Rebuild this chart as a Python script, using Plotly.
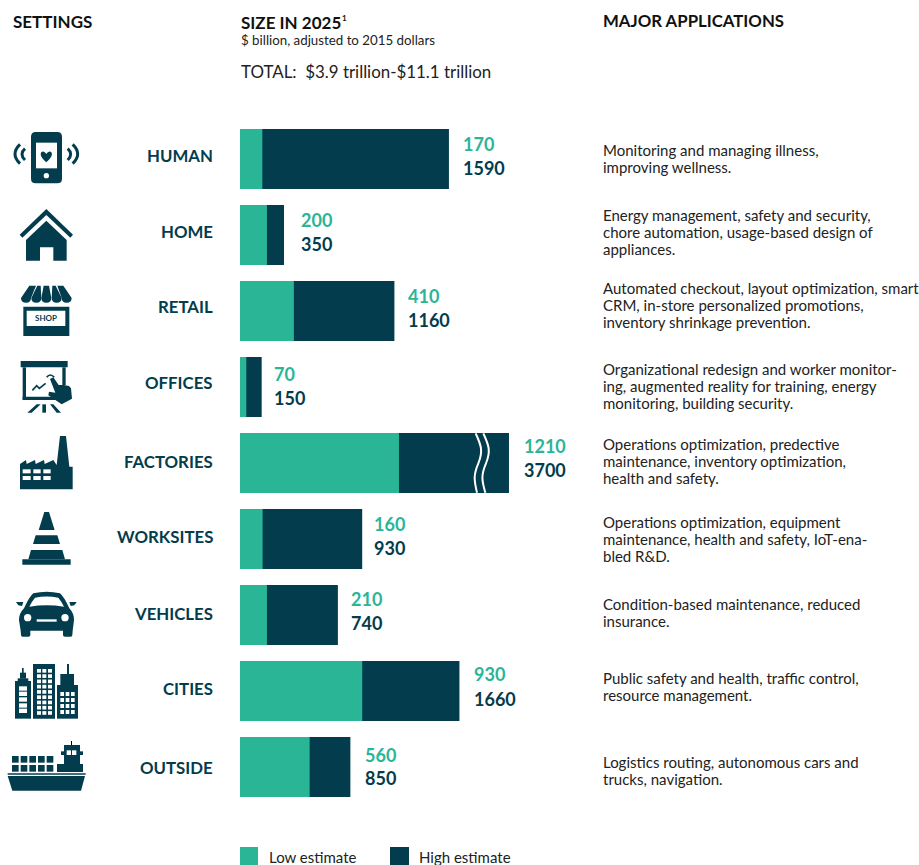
import plotly.graph_objects as go

# ---------- data ----------
categories = ["HUMAN", "HOME", "RETAIL", "OFFICES", "FACTORIES", "WORKSITES", "VEHICLES", "CITIES", "OUTSIDE"]
low_estimate = [170, 200, 410, 70, 1210, 160, 210, 930, 560]
high_estimate = [1590, 350, 1160, 150, 3700, 930, 740, 1660, 850]
# Bar lengths (the factories bar is on a broken axis in the original)
high_drawn = [1590, 335, 1175, 165, 2047, 930, 745, 1670, 840]
low_drawn = [170, 205, 410, 48, 1210, 172, 205, 930, 530]
applications = [
    ["Monitoring and managing illness,", "improving wellness."],
    ["Energy management, safety and security,", "chore automation, usage-based design of", "appliances."],
    ["Automated checkout, layout optimization, smart", "CRM, in-store personalized promotions,", "inventory shrinkage prevention."],
    ["Organizational redesign and worker monitor-", "ing, augmented reality for training, energy", "monitoring, building security."],
    ["Operations optimization, predective", "maintenance, inventory optimization,", "health and safety."],
    ["Operations optimization, equipment", "maintenance, health and safety, IoT-ena-", "bled R&D."],
    ["Condition-based maintenance, reduced", "insurance."],
    ["Public safety and health, traffic control,", "resource management."],
    ["Logistics routing, autonomous cars and", "trucks, navigation."],
]

# ---------- layout constants ----------
W, H = 919, 865
GREEN, DARK = "#2BB597", "#033C4D"
FONT = "Lato"
K = 0.1314
X0 = 240
Y_FIRST, PITCH = 159, 76
label_y = [155.5, 231.5, 306.5, 382.5, 461.5, 536.5, 613.5, 688.5, 767.5]
low_val_y = [144, 220, 296, 374, 446, 524, 599, 674, 755]
high_val_y = [168, 244, 320, 398, 470, 548, 623, 699, 778]
val_shift = [13.5, 15.5, 12.5, 11.5, 14.5, 10.5, 12.5, 13.5, 13.5]
desc_first_y = [149.5, 214.5, 287.5, 368.5, 443.5, 521.5, 603.5, 677.5, 761.5]

fig = go.Figure()
fig.add_bar(y=categories, x=high_drawn, orientation="h", marker=dict(color=DARK, line_width=0),
            name="High estimate", hoverinfo="skip")
fig.add_bar(y=categories, x=low_drawn, orientation="h", marker=dict(color=GREEN, line_width=0),
            name="Low estimate", hoverinfo="skip")
fig.add_scatter(x=[0], y=[0], xaxis="x2", yaxis="y2", mode="markers", marker=dict(opacity=0, size=1),
                hoverinfo="skip", showlegend=False)

ann, shapes = [], []


def text(x, y, s, size, color, bold=False, anchor="left", xref="x2", xshift=0):
    t = f"<b>{s}</b>" if bold else s
    ann.append(dict(x=x, y=y, xref=xref, yref="y2", text=t, showarrow=False, xanchor=anchor, yanchor="middle",
                    xshift=xshift, align=anchor, borderpad=0,
                    font=dict(family=FONT, size=size, color=color)))


def P(pts, oy=0, color=DARK):
    d = "M " + " L ".join(f"{x/3:.2f},{y/3+oy:.2f}" for x, y in pts) + " Z"
    shapes.append(dict(type="path", path=d, xref="x2", yref="y2", fillcolor=color, line_width=0))


def R(x0, y0, x1, y1, oy=0, color=DARK):
    shapes.append(dict(type="rect", x0=x0/3, x1=x1/3, y0=y0/3+oy, y1=y1/3+oy, xref="x2", yref="y2",
                       fillcolor=color, line_width=0))


def C(cx, cy, r, oy=0, color=DARK):
    shapes.append(dict(type="circle", x0=(cx-r)/3, x1=(cx+r)/3, y0=(cy-r)/3+oy, y1=(cy+r)/3+oy, xref="x2", yref="y2",
                       fillcolor=color, line_width=0))


def raw(d, ox=0, oy=0, fill=DARK, stroke=None, w=0):
    # d is a list of tokens: commands and (x, y) pairs in zoom coordinates
    out = []
    for tok in d:
        out.append(tok if isinstance(tok, str) else f"{tok[0]/3+ox:.2f},{tok[1]/3+oy:.2f}")
    s = dict(type="path", path=" ".join(out), xref="x2", yref="y2", line=dict(width=w, color=stroke or "rgba(0,0,0,0)"))
    s["fillcolor"] = fill if fill else "rgba(0,0,0,0)"
    shapes.append(s)


# ---------- headers ----------
text(11.5, 21, "SETTINGS", 17, "#111111", True)
text(239.5, 22, "SIZE IN 2025", 17, "#111111", True)
text(340.5, 18, "1", 8, "#111111", True)
text(239.5, 39.5, "$ billion, adjusted to 2015 dollars", 13.3, "#222222")
text(239.5, 71.5, "TOTAL:  $3.9 trillion-$11.1 trillion", 16.9, "#222222")
text(601.5, 20.5, "MAJOR APPLICATIONS", 16.8, "#111111", True)

# ---------- rows ----------
for i, c in enumerate(categories):
    text(214, label_y[i], c, 16.8, DARK, True, anchor="right")
    text(high_drawn[i], low_val_y[i], str(low_estimate[i]), 18, GREEN, True, xref="x", xshift=val_shift[i])
    text(high_drawn[i], high_val_y[i], str(high_estimate[i]), 18, DARK, True, xref="x", xshift=val_shift[i])
    for j, line in enumerate(applications[i]):
        text(601.5, desc_first_y[i] + 17 * j, line, 15, "#222222")

# ---------- axis break on the factories bar ----------
raw(["M", (287, 40), "C", (300, 70), (312, 90), (295, 130), "C", (280, 165), (282, 180), (291, 218)],
    ox=380, oy=420, fill=None, stroke="white", w=2)
raw(["M", (310, 40), "C", (323, 70), (335, 90), (318, 130), "C", (303, 165), (305, 180), (316, 218)],
    ox=380, oy=420, fill=None, stroke="white", w=2)

# ---------- legend ----------
shapes.append(dict(type="rect", xref="x2", yref="y2", x0=240, x1=258, y0=847, y1=865, fillcolor=GREEN, line_width=0))
shapes.append(dict(type="rect", xref="x2", yref="y2", x0=390, x1=409, y0=847, y1=865, fillcolor=DARK, line_width=0))
text(267.5, 857, "Low estimate", 15, "#222222")
text(418, 857, "High estimate", 15, "#222222")

# ---------- icons ----------
# human (phone with heart and signal arcs)
raw(["M", (107, 396), "L", (172, 396), "Q", (186, 396), (186, 410), "L", (186, 536), "Q", (186, 550), (172, 550),
     "L", (107, 550), "Q", (93, 550), (93, 536), "L", (93, 410), "Q", (93, 396), (107, 396), "Z"])
R(108, 428, 171, 505, color="white")
C(139, 527, 8, color="white")
raw(["M", (139, 487), "C", (115, 468), (121, 453), (131, 455), "Q", (136, 456), (139, 462), "Q", (142, 456), (147, 455),
     "C", (157, 453), (163, 468), (139, 487), "Z"])
for d in [[(60, 433), (30, 462), (60, 491)], [(75, 446), (57, 462), (75, 480)],
          [(218, 433), (248, 462), (218, 491)], [(203, 446), (221, 462), (203, 480)]]:
    raw(["M", d[0], "Q", d[1], d[2]], fill=None, stroke=DARK, w=3)

# home
P([(139, 627), (219, 704), (211, 713), (139, 645), (67, 713), (59, 704)])
P([(139, 662), (200, 720), (200, 782), (160, 782), (160, 742), (120, 742), (120, 782), (78, 782), (78, 720)])

# retail
tops = [(88, 108), (112, 122), (131, 147), (157, 167), (172, 190)]
bots = [(63, 93), (94, 124), (124, 154), (155, 185), (185, 215)]
for (t0, t1), (b0, b1) in zip(tops, bots):
    m = (b0 + b1) / 2
    raw(["M", (t0, 47), "L", (t1, 47), "L", (b1, 84), "Q", (b1, 98), (m, 98), "Q", (b0, 98), (b0, 84), "Z"], oy=270)
R(70, 110, 208, 198, 270)
R(80, 122, 196, 168, 270, color="white")
text(46.4, 318.2, "SHOP", 8, DARK, True, anchor="center")

# offices
R(62, 273, 203, 292, 270)
R(68, 292, 78, 390, 270)
R(187, 292, 197, 345, 270)
R(68, 380, 172, 390, 270)
P([(110, 403), (122, 403), (95, 428), (82, 428)], 270)
R(127, 403, 138, 428, 270)
P([(150, 403), (160, 403), (183, 428), (170, 428)], 270)
raw(["M", (97, 361), "L", (110, 347), "L", (118, 355), "L", (137, 340)], oy=270, fill=None, stroke=DARK, w=1.6)
raw(["M", (140, 322), "Q", (150, 308), (163, 322)], oy=270, fill=None, stroke=DARK, w=1.6)
P([(150, 327), (160, 322), (176, 345), (192, 345), (207, 348), (213, 355), (216, 386), (185, 403), (145, 376), (147, 365),
   (166, 368)], 270)

# factories
P([(60, 590), (60, 582), (78, 570), (80, 582), (105, 570), (107, 582), (132, 570), (134, 582), (160, 570), (170, 585),
   (180, 498), (198, 498), (208, 590), (218, 590), (218, 658), (60, 658)], 270)
for y0 in (598, 618):
    for x0, x1 in ((68, 92), (100, 122), (130, 152)):
        R(x0, y0, x1, y0 + 12, 270, color="white")

# worksites
P([(133, 726), (147, 726), (164, 780), (116, 780)], 270)
P([(107, 796), (172, 796), (180, 822), (99, 822)], 270)
P([(93, 840), (187, 840), (195, 868), (85, 868)], 270)
R(67, 868, 212, 884, 270)

# vehicles
raw(["M", (100, 70), "Q", (140, 60), (180, 70), "Q", (192, 80), (208, 115), "Q", (222, 130), (222, 150), "L", (218, 182),
     "L", (217, 195), "Q", (217, 200), (212, 200), "L", (195, 200), "Q", (189, 200), (189, 195), "L", (189, 182),
     "L", (91, 182), "L", (91, 195), "Q", (91, 200), (85, 200), "L", (68, 200), "Q", (63, 200), (63, 195), "L", (62, 182),
     "L", (57, 150), "Q", (57, 130), (72, 115), "Q", (88, 80), (100, 70), "Z"], oy=570)
raw(["M", (105, 83), "Q", (140, 76), (175, 83), "Q", (185, 95), (192, 110), "Q", (140, 102), (88, 110), "Q", (95, 95),
     (105, 83), "Z"], oy=570, fill="white")
C(83, 143, 11, 570, "white")
C(195, 143, 11, 570, "white")
R(110, 148, 170, 155, 570, "white")
P([(48, 96), (70, 96), (66, 108), (55, 106)], 570)
P([(230, 96), (208, 96), (212, 108), (223, 106)], 570)

# cities
R(66, 294, 71, 310, 570)
R(60, 308, 78, 326, 570)
R(53, 325, 85, 335, 570)
R(45, 333, 93, 446, 570)
for y0 in (349, 365, 382, 400, 416):
    R(57, y0, 81, y0 + 13, 570, "white")
R(99, 282, 165, 446, 570)
for r in range(9):
    for x0 in (111, 127, 144):
        R(x0, 297 + r * 15.8, x0 + 12, 297 + r * 15.8 + 11, 570, "white")
R(201, 282, 207, 315, 570)
R(181, 312, 222, 346, 570)
R(171, 345, 234, 446, 570)
for r in range(4):
    for x0 in (181, 197, 213):
        R(x0, 366 + r * 18, x0 + 11, 366 + r * 18 + 12, 570, "white")

# outside
P([(23, 618), (255, 618), (243, 662), (37, 662)], 570)
R(23, 610, 257, 614, 570)
for y0 in (558, 585):
    for x0 in (36, 62, 88, 114, 140):
        R(x0, y0, x0 + 20, y0 + 20, 570)
R(171, 582, 249, 606, 570)
R(192, 525, 240, 582, 570)
R(183, 544, 249, 555, 570)
R(200, 541, 213, 555, 570, "white")
R(216, 541, 229, 555, 570, "white")
R(213, 513, 216, 525, 570, "#000000")

fig.update_layout(
    width=W, height=H, margin=dict(l=0, r=0, t=0, b=0), autosize=False,
    paper_bgcolor="white", plot_bgcolor="white", showlegend=False,
    barmode="overlay", bargap=16 / 76,
    font=dict(family=FONT),
    xaxis=dict(range=[-X0 / K, (W - X0) / K], visible=False, fixedrange=True, domain=[0, 1]),
    yaxis=dict(type="category", categoryorder="array", categoryarray=categories,
               range=[(H - Y_FIRST) / PITCH, -Y_FIRST / PITCH], visible=False, fixedrange=True, domain=[0, 1]),
    xaxis2=dict(range=[0, W], overlaying="x", visible=False, fixedrange=True),
    yaxis2=dict(range=[H, 0], overlaying="y", visible=False, fixedrange=True),
    annotations=ann, shapes=shapes,
)

fig.write_html("out.html", config=dict(displayModeBar=False),
               post_script="document.body.style.margin='0';document.documentElement.style.overflow='hidden';")
